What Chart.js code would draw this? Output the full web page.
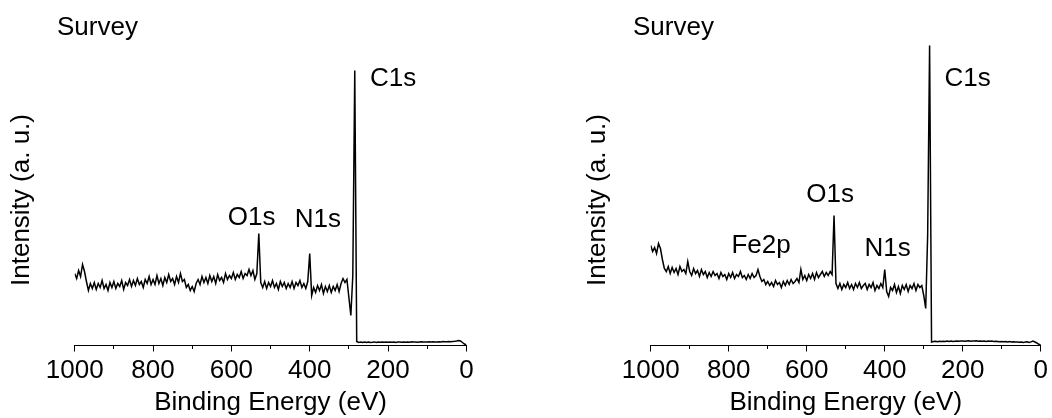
<!DOCTYPE html>
<html>
<head>
<meta charset="utf-8">
<script src="https://cdn.jsdelivr.net/npm/chart.js@4"></script>
<style>
    html, body { margin: 0; padding: 0; background: #fff; }
    .wrap { position: relative; width: 1052px; height: 418px; }
    .wrap canvas { position: absolute; top: 0; }
</style>
</head>
<body>
<div class="wrap">
    <canvas id="surveyLeft" width="526" height="418" style="left:0"></canvas>
    <canvas id="surveyRight" width="526" height="418" style="left:526px"></canvas>
</div>
<script>
"use strict";

// Binding energy grid (eV), shared by both spectra
const energy = [
    1000, 995, 990, 985, 980, 975, 970, 965, 960, 955,
    950, 945, 940, 935, 930, 925, 920, 915, 910, 905,
    900, 895, 890, 885, 880, 875, 870, 865, 860, 855,
    850, 845, 840, 835, 830, 825, 820, 815, 810, 805,
    800, 795, 790, 785, 780, 775, 770, 765, 760, 755,
    750, 745, 740, 735, 730, 725, 720, 715, 710, 705,
    700, 695, 690, 685, 680, 675, 670, 665, 660, 655,
    650, 645, 640, 635, 630, 625, 620, 615, 610, 605,
    600, 595, 590, 585, 580, 575, 570, 565, 560, 555,
    550, 545, 540, 535, 530, 525, 520, 515, 510, 505,
    500, 495, 490, 485, 480, 475, 470, 465, 460, 455,
    450, 445, 440, 435, 430, 425, 420, 415, 410, 405,
    400, 395, 390, 385, 380, 375, 370, 365, 360, 355,
    350, 345, 340, 335, 330, 325, 320, 315, 310, 305,
    300, 295, 290, 285, 280, 275, 270, 265, 260, 255,
    250, 245, 240, 235, 230, 225, 220, 215, 210, 205,
    200, 195, 190, 185, 180, 175, 170, 165, 160, 155,
    150, 145, 140, 135, 130, 125, 120, 115, 110, 105,
    100, 95, 90, 85, 80, 75, 70, 65, 60, 55,
    50, 45, 40, 35, 30, 25, 20, 15, 10, 5,
    0
];

// Left survey spectrum (a. u.)
const intensityLeft = [
    72, 67, 75, 69, 81, 74, 64, 55, 62, 57,
    63, 56, 62, 58, 65, 57, 61, 55, 63, 58,
    64, 57, 62, 59, 65, 56, 63, 60, 66, 59,
    65, 60, 67, 61, 64, 58, 66, 62, 69, 61,
    66, 61, 70, 62, 67, 60, 68, 63, 71, 64,
    67, 61, 69, 63, 72, 64, 66, 58, 61, 55,
    59, 54, 62, 66, 61, 69, 63, 68, 62, 70,
    64, 69, 62, 71, 65, 68, 63, 72, 66, 70,
    67, 73, 66, 71, 68, 74, 67, 72, 70, 76,
    70, 75, 66, 72, 112, 63, 58, 64, 57, 63,
    59, 65, 58, 62, 56, 64, 59, 63, 57, 62,
    58, 64, 57, 63, 60, 65, 58, 62, 57, 64,
    92, 50, 58, 53, 60, 55, 61, 52, 59, 54,
    60, 53, 59, 55, 61, 54, 62, 67, 63, 66,
    48, 30, 70, 275, 4, 3, 3.5, 3, 3.5, 3,
    3.5, 3, 3.2, 3.6, 3, 3.4, 3.2, 3.6, 3.3, 3.5,
    3.2, 3.6, 3.3, 3.5, 3.1, 3.4, 3.6, 3.3, 3.5, 3.2,
    3.5, 3.3, 3.7, 3.4, 3.6, 3.2, 3.5, 3.7, 3.4, 3.6,
    3.4, 3.7, 3.5, 3.8, 3.6, 3.4, 3.8, 3.6, 3.9, 3.7,
    3.8, 4, 3.7, 4.1, 4.3, 4.6, 5, 4.5, 3, 1.5,
    0.5
];

// Right survey spectrum (a. u.)
const intensityRight = [
    100, 94, 98, 92, 102, 97, 86, 77, 74, 79,
    72, 78, 73, 77, 71, 79, 74, 76, 72, 84,
    74, 70, 77, 72, 75, 69, 76, 71, 74, 68,
    73, 69, 74, 70, 72, 67, 73, 69, 71, 66,
    72, 68, 73, 67, 71, 69, 74, 68, 70, 66,
    71, 67, 72, 68, 70, 76, 69, 64, 66, 61,
    64, 60, 63, 59, 65, 61, 63, 58, 64, 60,
    65, 61, 66, 62, 64, 67, 63, 76, 66, 70,
    65, 71, 67, 72, 66, 73, 68, 71, 74, 69,
    73, 70, 74, 71, 130, 62, 57, 62, 56, 61,
    58, 63, 57, 61, 56, 62, 58, 63, 57, 60,
    62, 56, 61, 58, 63, 55, 60, 57, 62, 58,
    76, 54, 49, 58, 55, 61, 53, 59, 52, 60,
    56, 61, 54, 60, 57, 62, 55, 61, 58, 60,
    50, 37, 110, 300, 3.5, 4, 4.3, 3.8, 4.2, 4,
    4.3, 3.9, 4.4, 4.1, 4.5, 4, 4.3, 4.6, 4.2, 4.4,
    4.6, 4.2, 4.5, 4.8, 4.3, 4.6, 4.4, 4.7, 4.2, 4.5,
    4.3, 4.6, 4.1, 4.4, 4.2, 4.5, 3.9, 4.3, 4.1, 3.8,
    4, 3.7, 4.1, 3.6, 3.9, 3.5, 3.8, 3.4, 3.6, 3.2,
    3.5, 3.1, 3.4, 3.8, 3, 3.6, 4.4, 3.5, 2.5, 1.2,
    0.5
];

// Peak labels: text, energy (eV), intensity at text baseline
const peaksLeft = [
    { text: 'C1s', energy: 246, intensity: 260 },
    { text: 'O1s', energy: 609, intensity: 121 },
    { text: 'N1s', energy: 438, intensity: 119 }
];
const peaksRight = [
    { text: 'C1s', energy: 247, intensity: 260 },
    { text: 'O1s', energy: 601, intensity: 144 },
    { text: 'N1s', energy: 452, intensity: 90 },
    { text: 'Fe2p', energy: 793, intensity: 93 }
];

const FONT = '"Liberation Sans", Arial, sans-serif';

window.SurveyCharts = {

    init: function() {
        this.render('surveyLeft', intensityLeft, peaksLeft, { top: 40, left: 74.7, right: 59.6 });
        this.render('surveyRight', intensityRight, peaksRight, { top: 40, left: 124.7, right: 10.3 });
    },

    /**
     * Тексти: Survey, підпис осі Y, піки
     */
    textPlugin: {
        id: 'surveyText',
        afterDraw: function(chart, args, opts) {
            const { ctx, chartArea, scales } = chart;
            ctx.save();
            ctx.fillStyle = '#000';
            ctx.font = '26px ' + FONT;
            ctx.textAlign = 'left';
            ctx.textBaseline = 'alphabetic';
            ctx.fillText('Survey', chartArea.left - 17.7, 35);

            opts.peaks.forEach(function(p) {
                ctx.fillText(p.text, scales.x.getPixelForValue(p.energy), scales.y.getPixelForValue(p.intensity));
            });

            ctx.translate(chartArea.left - 52.7, 200);
            ctx.rotate(-Math.PI / 2);
            ctx.textAlign = 'center';
            ctx.textBaseline = 'middle';
            ctx.fillText('Intensity (a. u.)', 0, 0);
            ctx.restore();
        }
    },

    render: function(id, values, peaks, pad) {
        const ctx = document.getElementById(id);
        if (!ctx) return;

        const points = energy.map(function(e, i) { return { x: e, y: values[i] }; });
        const tickFont = { family: FONT, size: 26 };

        new Chart(ctx, {
            type: 'line',
            data: {
                datasets: [{
                    data: points,
                    borderColor: '#000',
                    borderWidth: 1.5,
                    pointRadius: 0,
                    tension: 0,
                    fill: false
                }]
            },
            plugins: [this.textPlugin],
            options: {
                responsive: false,
                animation: false,
                layout: { padding: { top: pad.top, left: pad.left, right: pad.right, bottom: 0 } },
                scales: {
                    x: {
                        type: 'linear',
                        reverse: true,
                        min: 0,
                        max: 1000,
                        afterFit: function(scale) { scale.height = 72.5; },
                        grid: { drawOnChartArea: false, tickLength: 6, tickColor: '#000', tickWidth: 1 },
                        border: { display: true, color: '#000', width: 1 },
                        ticks: {
                            stepSize: 200,
                            color: '#000',
                            font: tickFont,
                            padding: 4,
                            maxRotation: 0,
                            autoSkip: false,
                            callback: function(v) { return String(v); }
                        },
                        title: {
                            display: true,
                            text: 'Binding Energy (eV)',
                            color: '#000',
                            font: tickFont,
                            padding: { top: 0, bottom: 0 }
                        }
                    },
                    // minor ticks, laid on the same axis line
                    xMinor: {
                        type: 'linear',
                        reverse: true,
                        min: 0,
                        max: 1000,
                        position: { y: 0 },
                        grid: { drawOnChartArea: false, tickLength: 3, tickColor: '#000', tickWidth: 1 },
                        border: { display: false },
                        ticks: { stepSize: 100, display: false }
                    },
                    y: {
                        display: false,
                        min: 0,
                        max: 305.5
                    }
                },
                plugins: {
                    legend: { display: false },
                    tooltip: { enabled: false },
                    surveyText: { peaks: peaks }
                }
            }
        });
    }
};

window.SurveyCharts.init();
</script>
</body>
</html>
